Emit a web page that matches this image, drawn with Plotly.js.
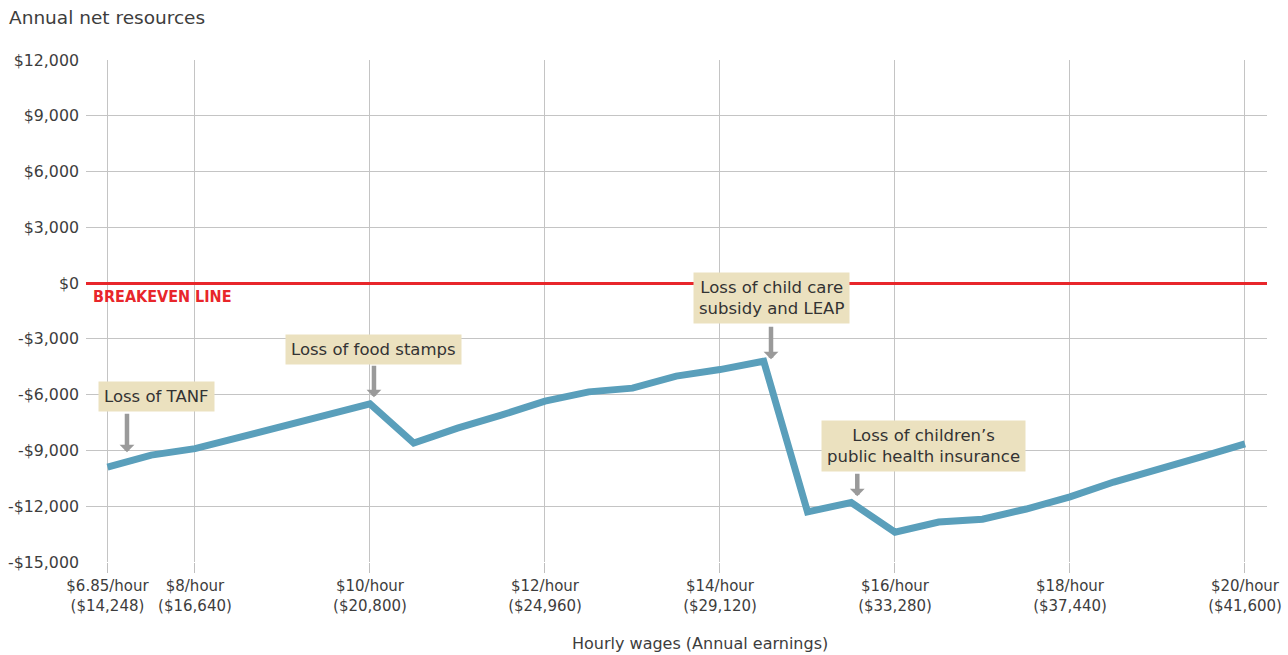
<!DOCTYPE html>
<html>
<head>
<meta charset="utf-8">
<script src="https://cdn.plot.ly/plotly-3.0.1.min.js"></script>
<style>html,body{margin:0;padding:0;background:#fff;}#chart{width:1288px;height:655px;}</style>
</head>
<body>
<div id="chart"></div>
<script>
// Hourly wage steps (first step is the $6.85 minimum wage)
const wages = ["6.85","7.5","8","8.5","9","9.5","10","10.5","11","11.5","12","12.5","13","13.5","14","14.5","15","15.5","16","16.5","17","17.5","18","18.5","19","19.5","20"];
// Annual net resources at each wage step
const netResources = [-9900,-9250,-8900,-8300,-7700,-7100,-6500,-8600,-7800,-7100,-6350,-5850,-5650,-5000,-4650,-4200,-12300,-11800,-13400,-12850,-12700,-12150,-11500,-10700,-10050,-9350,-8650];
// Labelled x ticks
const tickWages = ["6.85","8","10","12","14","16","18","20"];
const tickHourly = ["$6.85/hour","$8/hour","$10/hour","$12/hour","$14/hour","$16/hour","$18/hour","$20/hour"];
const tickAnnual = ["($14,248)","($16,640)","($20,800)","($24,960)","($29,120)","($33,280)","($37,440)","($41,600)"];
// y ticks
const yTicks = [-15000,-12000,-9000,-6000,-3000,0,3000,6000,9000,12000];

function money(v){
  const s = String(Math.abs(v)).replace(/\B(?=(\d{3})+(?!\d))/g, ",");
  return (v < 0 ? "-$" : "$") + s;
}

const FONT = "DejaVu Sans, Liberation Sans, sans-serif";
const boxFill = "#ebe1bf";
const arrowColor = "#9a9a9a";

function note(text, x, y){
  return {text: text, x: x, y: y, xref: "x", yref: "y", showarrow: false,
    bgcolor: boxFill, borderpad: 5, font: {family: FONT, size: 16.5, color: "#333"}, align: "center"};
}
function arrow(x, y, len){
  return {text: "", x: x, y: y, xref: "x", yref: "y", showarrow: true, ax: 0, ay: -len,
    arrowhead: 1, arrowsize: 0.55, arrowwidth: 4.5, arrowcolor: arrowColor};
}

const trace = {
  type: "scatter", mode: "lines",
  x: wages, y: netResources,
  line: {color: "#5a9fbb", width: 7},
  hoverinfo: "x+y"
};

const layout = {
  width: 1288, height: 655,
  margin: {l: 86, r: 21, t: 60, b: 93},
  paper_bgcolor: "#fff", plot_bgcolor: "#fff",
  showlegend: false,
  font: {family: FONT, color: "#3d3d3d"},
  xaxis: {
    type: "category",
    range: [-0.491, 26.503],
    tickmode: "array",
    tickvals: tickWages,
    ticktext: tickHourly.map((h, i) => h + "<br>" + tickAnnual[i]),
    ticks: "outside", ticklen: 10, tickwidth: 1, tickcolor: "#bfbfbf",
    showgrid: true, gridcolor: "#c4c4c4", gridwidth: 1,
    zeroline: false, showline: false,
    tickfont: {family: FONT, size: 15, color: "#3d3d3d"}
  },
  yaxis: {
    range: [-15000, 12000],
    tickmode: "array",
    tickvals: yTicks,
    ticktext: yTicks.map(money),
    ticks: "", ticklabelstandoff: 6,
    showgrid: true, gridcolor: "#c4c4c4", gridwidth: 1,
    zeroline: true, zerolinecolor: "#e8262b", zerolinewidth: 3,
    showline: false,
    tickfont: {family: FONT, size: 15.8, color: "#3d3d3d"}
  },
  annotations: [
    {text: "Annual net resources", xref: "paper", yref: "paper", x: 0, y: 1, xanchor: "left", yanchor: "middle",
     xshift: -79, yshift: 43, showarrow: false, font: {family: FONT, size: 18.5, color: "#3d3d3d"}},
    {text: "Hourly wages (Annual earnings)", xref: "paper", yref: "paper", x: 0.5, y: 0, xanchor: "center", yanchor: "middle",
     xshift: 23.5, yshift: -81, showarrow: false, font: {family: FONT, size: 16, color: "#3d3d3d"}},
    {text: "<b>BREAKEVEN LINE</b>", xref: "paper", yref: "y", x: 0, y: 0, xanchor: "left", yanchor: "middle",
     xshift: 5, yshift: -13, showarrow: false, font: {family: "DejaVu Sans Condensed, DejaVu Sans, sans-serif", size: 16, color: "#e8262b"}},
    arrow(0.446, -9097, 40),
    arrow(6.091, -6137, 33),
    arrow(15.166, -4092, 34),
    arrow(17.138, -11466, 24),
    note("Loss of TANF", 1.109, -6083),
    note("Loss of food stamps", 6.091, -3554),
    note("Loss of child care<br>subsidy and LEAP", 15.17, -825),
    note("Loss of children’s<br>public health insurance", 18.646, -8737)
  ]
};

Plotly.newPlot("chart", [trace], layout, {displayModeBar: false});
</script>
</body>
</html>
